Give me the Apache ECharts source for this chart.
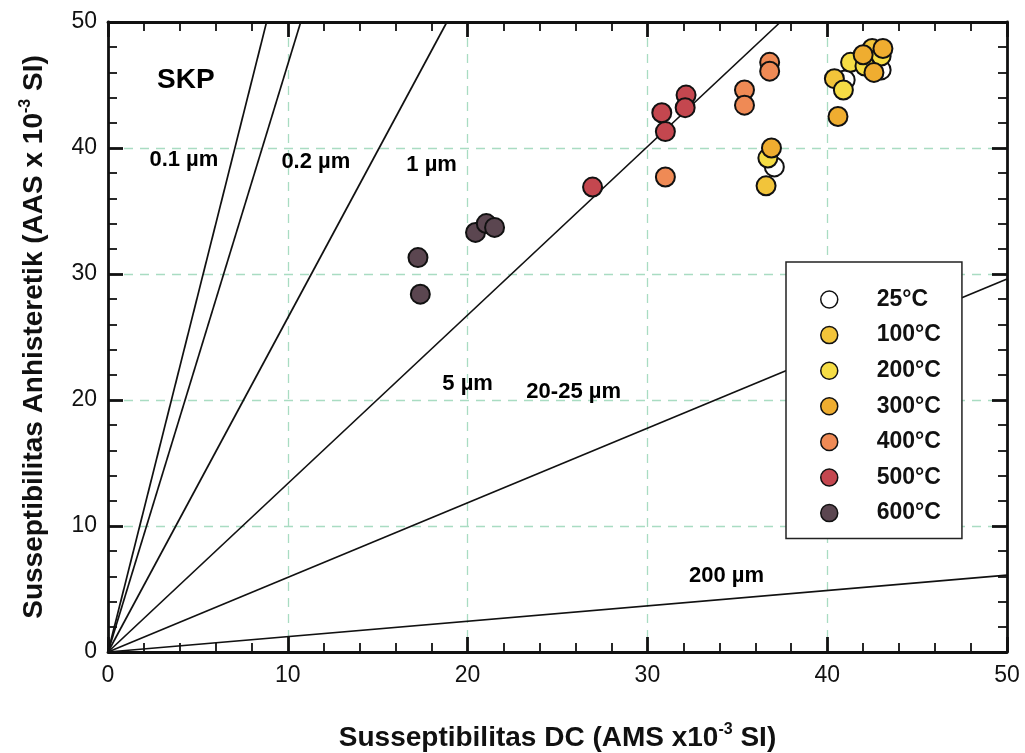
<!DOCTYPE html>
<html><head><meta charset="utf-8">
<script src="https://cdn.jsdelivr.net/npm/echarts@6/dist/echarts.min.js"></script>
<style>html,body{margin:0;padding:0;background:#fff}#c{width:1025px;height:753px}</style>
</head><body><div id="c"></div>
<script>
// ---- data ----
const tempLabels = ['25°C', '100°C', '200°C', '300°C', '400°C', '500°C', '600°C'];
const tempColors = ['#ffffff', '#f2c43a', '#f6dd45', '#efad30', '#ef8a55', '#c4474f', '#5b4650'];
const pts25  = [[41.0, 45.4], [43.0, 46.2], [37.06, 38.5]];
const pts100 = [[40.4, 45.5], [36.6, 37.0], [42.5, 47.9]];
const pts200 = [[40.9, 44.6], [36.7, 39.2], [41.3, 46.8], [43.0, 47.3], [42.1, 46.5]];
const pts300 = [[40.6, 42.5], [36.9, 40.0], [42.0, 47.4], [43.1, 47.9], [42.6, 46.0]];
const pts400 = [[31.0, 37.7], [35.4, 44.6], [35.4, 43.4], [36.8, 46.8], [36.8, 46.1]];
const pts500 = [[26.95, 36.9], [30.8, 42.8], [31.0, 41.3], [32.15, 44.2], [32.1, 43.2]];
const pts600 = [[17.24, 31.3], [17.37, 28.4], [20.44, 33.3], [21.04, 34.0], [21.5, 33.7]];
const allPts = [pts25, pts100, pts200, pts300, pts400, pts500, pts600];
// grain-size reference lines (from origin to the point where they leave the plot)
const grainLabels = ['0.1 µm', '0.2 µm', '1 µm', '5 µm', '20-25 µm', '200 µm'];
const grainEnds = [[8.82, 50], [10.72, 50], [18.85, 50], [37.4, 50], [50, 29.6], [50, 6.1]];
const grainLabelPos = [[4.22, 39.05], [11.56, 38.9], [18.0, 38.65], [20.0, 21.27], [25.9, 20.63], [34.4, 6.03]];
const sampleLabel = 'SKP';
const sampleLabelPos = [4.33, 45.4];
const axisMin = 0, axisMax = 50, axisInterval = 10;

const FONT = 'Liberation Sans';
const chart = echarts.init(document.getElementById('c'));

const series = [];
grainEnds.forEach((e, i) => {
  series.push({
    name: 'line' + i, type: 'line', data: [[0, 0], e], symbol: 'none', silent: true,
    lineStyle: { color: '#111', width: 1.7 }, z: 1, animation: false
  });
});
allPts.forEach((pts, i) => {
  series.push({
    name: tempLabels[i], type: 'scatter', data: pts, symbolSize: 19, z: 3 + i,
    itemStyle: { color: tempColors[i], borderColor: '#111', borderWidth: 2, opacity: 1 },
    animation: false
  });
});

const tickCommon = {
  axisLine: { show: true, onZero: false, lineStyle: { color: '#111', width: 2.8 } },
  axisTick: { show: true, inside: true, length: 15, lineStyle: { color: '#111', width: 2.8 } },
  minorTick: { show: true, splitNumber: 5, length: 9, lineStyle: { color: '#111', width: 1.8 } },
  min: axisMin, max: axisMax, interval: axisInterval
};
const supRich = { sup: { fontFamily: FONT, fontWeight: 'bold', fontSize: 16, color: '#111', verticalAlign: 'top', padding: [0, 0, 16, 0] } };

const option = {
  backgroundColor: '#fff',
  animation: false,
  grid: { left: 108, right: 18, top: 22, bottom: 101, containLabel: false, outerBoundsMode: 'none' },
  xAxis: [
    Object.assign({}, tickCommon, {
      type: 'value', position: 'bottom',
      axisLabel: { fontFamily: FONT, fontSize: 23, color: '#111', margin: 12 },
      splitLine: { show: true, lineStyle: { color: '#a9dcc2', type: [9, 7], width: 1.3 } },
      name: 'Susseptibilitas DC (AMS x10{sup|-3} SI)', nameLocation: 'middle', nameGap: 70,
      nameTextStyle: { fontFamily: FONT, fontWeight: 'bold', fontSize: 28, color: '#111', rich: supRich }
    }),
    Object.assign({}, tickCommon, {
      type: 'value', position: 'top', axisLabel: { show: false }, splitLine: { show: false }
    })
  ],
  yAxis: [
    Object.assign({}, tickCommon, {
      type: 'value', position: 'left',
      axisLabel: { fontFamily: FONT, fontSize: 23, color: '#111', margin: 11 },
      splitLine: { show: true, lineStyle: { color: '#a9dcc2', type: [9, 7], width: 1.3 } },
      name: 'Susseptibilitas Anhisteretik (AAS x 10{sup|-3} SI)', nameLocation: 'middle', nameGap: 58,
      nameTextStyle: { fontFamily: FONT, fontWeight: 'bold', fontSize: 28, color: '#111', rich: supRich }
    }),
    Object.assign({}, tickCommon, {
      type: 'value', position: 'right', axisLabel: { show: false }, splitLine: { show: false }
    })
  ],
  legend: {
    show: true, orient: 'vertical', left: 786, top: 262,
    data: tempLabels, icon: 'circle', itemWidth: 17, itemHeight: 17, itemGap: 12.6,
    padding: [26, 21, 14, 34],
    backgroundColor: '#fff', borderColor: '#222', borderWidth: 1.5,
    itemStyle: { borderColor: '#111', borderWidth: 1.5 },
    textStyle: { fontFamily: FONT, fontWeight: 'bold', fontSize: 23, color: '#111',
      padding: [0, 0, 0, 34], width: 63, lineHeight: 17 },
    selectedMode: false, z: 20
  },
  series: series
};
chart.setOption(option);

// text annotations placed through the axes' own scales
const graphics = grainLabels.map((t, i) => {
  const p = chart.convertToPixel({ xAxisIndex: 0, yAxisIndex: 0 }, grainLabelPos[i]);
  return { type: 'text', x: p[0], y: p[1], z: 50, silent: true,
    style: { text: t, fill: '#000', font: 'bold 22px "' + FONT + '"', textAlign: 'center', textVerticalAlign: 'middle' } };
});
const sp = chart.convertToPixel({ xAxisIndex: 0, yAxisIndex: 0 }, sampleLabelPos);
graphics.push({ type: 'text', x: sp[0], y: sp[1], z: 50, silent: true,
  style: { text: sampleLabel, fill: '#000', font: 'bold 28px "' + FONT + '"', textAlign: 'center', textVerticalAlign: 'middle' } });
chart.setOption({ graphic: graphics });
</script></body></html>
